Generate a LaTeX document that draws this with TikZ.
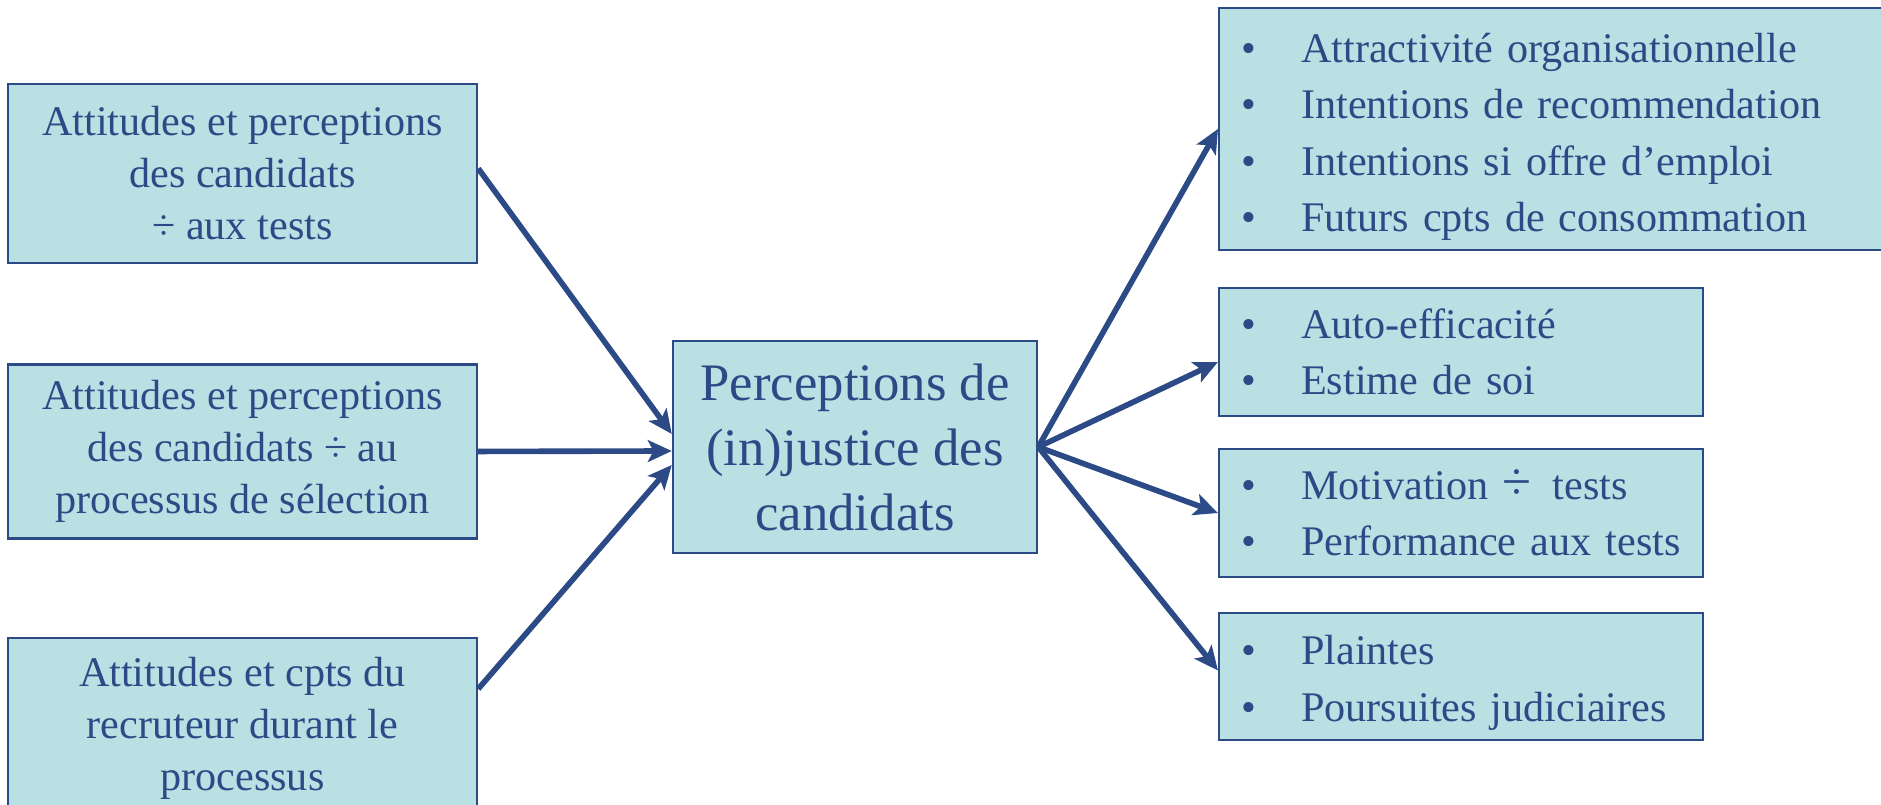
\documentclass[tikz,border=0pt]{standalone}
\usepackage{fontspec}
\setmainfont{Liberation Serif}
\usetikzlibrary{arrows.meta,positioning}
\definecolor{boxfill}{RGB}{185,224,227}
\definecolor{navy}{RGB}{43,74,134}
\newcommand{\itm}[1]{\makebox[0.6cm][l]{\textbullet}#1}

\begin{document}
\begin{tikzpicture}
  \tikzset{
    >={Stealth[length=6.8pt,width=6.2pt,inset=1.6pt]},
    link/.style={->,color=navy,line width=1.6pt},
    box/.style={rectangle,draw=navy,fill=boxfill,line width=0.7pt,text=navy,inner sep=0pt},
    cause/.style={box,minimum width=4.69cm,font=\fontsize{12}{14.8}\selectfont,align=center},
    effect/.style={box,anchor=west,font=\fontsize{12}{16}\selectfont,align=left,inner xsep=0.22cm},
  }
  \useasboundingbox (0,0) rectangle (18.81,8.05);

  \node [cause, minimum height=1.79cm] (att) at (2.425,6.315)
    {Attitudes et perceptions\\des candidats\\÷ aux tests};
  \node [cause, minimum height=1.74cm, below=0.99cm of att] (proc)
    {Attitudes et perceptions\\des candidats ÷ au\\processus de sélection};
  \node [cause, minimum height=1.8cm, below=0.97cm of proc] (rec)
    {Attitudes et cpts du\\recruteur durant le\\processus};
  \node [box, minimum width=3.64cm, minimum height=2.12cm,
         font=\fontsize{15}{18.5}\selectfont, align=center] (just) at (8.55,3.58)
    {Perceptions de\\(in)justice des\\candidats};

  \node [effect, minimum height=2.42cm, text width=6.28cm] (org) at (12.18,6.76)
    {\rule{0pt}{0.45cm}\itm{Attractivité organisationnelle}\\\itm{Intentions de recommendation}\\
     \itm{Intentions si offre d’emploi}\\\itm{Futurs cpts de consommation}};
  \node [effect, minimum height=1.28cm, text width=4.40cm] (soi) at (12.18,4.53)
    {\itm{Auto-efficacité}\\\itm{Estime de soi}};
  \node [effect, minimum height=1.28cm, text width=4.40cm] (tests) at (12.18,2.92)
    {\itm{Motivation {\fontsize{15}{16}\selectfont÷}\, tests}\\\itm{Performance aux tests}};
  \node [effect, minimum height=1.27cm, text width=4.40cm] (jur) at (12.18,1.285)
    {\rule{0pt}{0.42cm}\itm{Plaintes}\\\itm{Poursuites judiciaires}};

  \path [link]
  ([yshift=0.05cm]att.east)  edge ([yshift=0.13cm]just.west)
  (proc.east)                edge ([yshift=-0.04cm]just.west)
  ([yshift=0.39cm]rec.east)  edge ([yshift=-0.18cm]just.west)
  (just.east) edge (org.west)
              edge ([yshift=-0.1cm]soi.west)
              edge (tests.west)
              edge ([yshift=0.06cm]jur.west);
\end{tikzpicture}
\end{document}
